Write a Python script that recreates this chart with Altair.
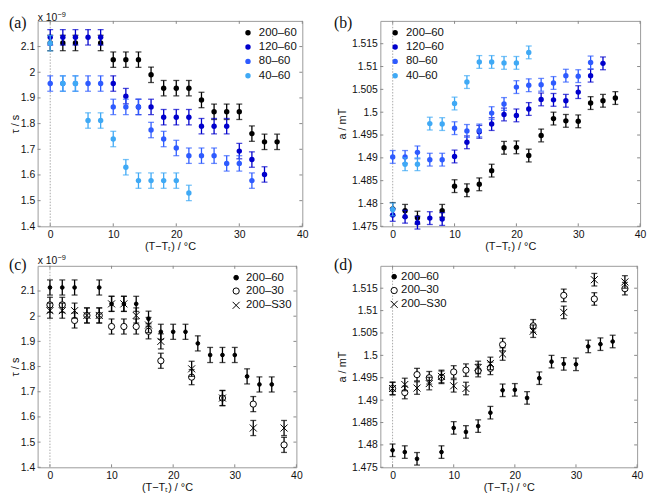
import altair as alt
import pandas as pd

# ---------------- data ----------------
X_200_60 = [0, 2, 4, 8, 10, 12, 14, 16, 18, 20, 22, 24, 26, 28, 30, 32, 34, 36]
TAU_200_60 = [2.114, 2.114, 2.114, 2.114, 2.049, 2.049, 2.049, 1.990, 1.938, 1.938, 1.938,
              1.892, 1.846, 1.846, 1.846, 1.761, 1.729, 1.729]
A_200_60 = [1.4788, 1.4784, 1.4769, 1.4784, 1.4838, 1.4829, 1.4842, 1.4872, 1.4922, 1.4923,
            1.4905, 1.4949, 1.4986, 1.4981, 1.4980, 1.5020, 1.5025, 1.5031]

X_120_60 = [0, 2, 4, 6, 8, 10, 12, 14, 16, 18, 20, 22, 24, 26, 28, 30, 32, 34]
TAU_120_60 = [2.136, 2.136, 2.136, 2.136, 2.136, 1.956, 1.907, 1.865, 1.865, 1.825, 1.825,
              1.825, 1.790, 1.790, 1.790, 1.693, 1.660, 1.602]
A_120_60 = [1.4775, 1.4771, 1.4758, 1.4768, 1.4766, 1.4903, 1.4934, 1.4957, 1.4974, 1.4995,
            1.4993, 1.5007, 1.5028, 1.5027, 1.5025, 1.5044, 1.5080, 1.5107]

X_80_60 = [0, 2, 4, 6, 8, 10, 12, 14, 16, 18, 20, 22, 24, 26, 28, 30, 32]
TAU_80_60 = [1.956, 1.956, 1.956, 1.956, 1.956, 1.865, 1.865, 1.865, 1.775, 1.740, 1.705,
             1.675, 1.675, 1.675, 1.645, 1.645, 1.578]
A_80_60 = [1.4902, 1.4902, 1.4912, 1.4896, 1.4896, 1.4965, 1.4959, 1.4960, 1.4998, 1.5018,
           1.5055, 1.5059, 1.5060, 1.5064, 1.5080, 1.5079, 1.5109]

X_40_60 = [0, 2, 4, 6, 8, 10, 12, 14, 16, 18, 20, 22]
TAU_40_60 = [2.113, 1.956, 1.956, 1.812, 1.812, 1.740, 1.630, 1.578, 1.578, 1.578, 1.578, 1.530]
A_40_60 = [1.4787, 1.4886, 1.4886, 1.4975, 1.4974, 1.5019, 1.5066, 1.5110, 1.5110, 1.5108,
           1.5108, 1.5131]

X_200_30 = [0, 2, 4, 6, 8, 10, 12, 14, 16, 18, 23, 28, 33, 38]
TAU_200_30 = [2.045, 2.045, 1.983, 2.003, 2.003, 1.959, 1.959, 1.959, 1.940, 1.823, 1.758,
              1.675, 1.651, 1.489]
TAU_200_S30 = [2.022, 2.022, 2.022, 2.003, 2.003, 2.049, 2.049, 2.003, 1.965, 1.900, 1.791,
               1.675, 1.556, 1.556]
A_200_30 = [1.4926, 1.4917, 1.4957, 1.4950, 1.4951, 1.4963, 1.4967, 1.4966, 1.4971, 1.5024,
            1.5066, 1.5134, 1.5126, 1.5149]
A_200_S30 = [1.4926, 1.4935, 1.4927, 1.4937, 1.4953, 1.4932, 1.4926, 1.4973, 1.4982, 1.5003,
             1.5054, 1.5096, 1.5169, 1.5164]

TAU_ERR = 0.03
A_ERR = 0.0014

SERIES_AB = ["200–60", "120–60", "80–60", "40–60"]
COLORS_AB = ["#000000", "#0000CC", "#2E5BFF", "#3FA9F5"]
SERIES_CD = ["200–60", "200–30", "200–S30"]

X_TICKS = [0, 10, 20, 30, 40]
TAU_TICKS = [1.4, 1.5, 1.6, 1.7, 1.8, 1.9, 2.0, 2.1]
A_TICKS = [1.475, 1.48, 1.485, 1.49, 1.495, 1.5, 1.505, 1.51, 1.515]
X_DOMAIN = [-2, 40]
TAU_DOMAIN = [1.4, 2.2]
A_DOMAIN = [1.475, 1.52]

X_TITLE = "(T−Tₜ) / °C"
XPATH = "M-1,-1L1,1M-1,1L1,-1"
FONT = "Liberation Sans"
FRAME = "#9a9a9a"
TXT = "#111111"

# marker styles for panels (c)/(d): (shape, fill, size)
STYLE_CD = [("circle", "black", 14), ("circle", "white", 40), (XPATH, "white", 50)]


def panel(series, xs, ys, err, kind, letter, dom, ticks, ytitle, ytpad, W, H,
          letter_dx, letter_dy, exp_dy, leg_sym_x, leg_txt_x, leg_rows):
    x_axis = alt.Axis(values=X_TICKS, title=X_TITLE, labelFlush=False)
    y_axis = alt.Axis(values=ticks, format="~g", title=ytitle, titlePadding=ytpad)
    xs_ = alt.Scale(domain=X_DOMAIN, nice=False, zero=False)
    ys_ = alt.Scale(domain=dom, nice=False, zero=False)

    def X(f):
        return alt.X(f"{f}:Q", scale=xs_, axis=x_axis)

    def Y(f):
        return alt.Y(f"{f}:Q", scale=ys_, axis=y_axis)

    layers = []
    # dotted line at x = 0
    layers.append(alt.Chart(pd.DataFrame({"x": [0]})).mark_rule(
        color="#aaaaaa", strokeDash=[1.5, 1.5], strokeWidth=1).encode(x=X("x")))
    # inner tick marks (box style)
    tdf = pd.DataFrame({"y": ticks})
    xdf = pd.DataFrame({"x": X_TICKS})
    tc = "#888888"
    layers.append(alt.Chart(tdf).mark_rule(color=tc).encode(y=Y("y"), x=alt.value(0), x2=alt.value(3)))
    layers.append(alt.Chart(tdf).mark_rule(color=tc).encode(y=Y("y"), x=alt.value(W - 3), x2=alt.value(W)))
    layers.append(alt.Chart(xdf).mark_rule(color=tc).encode(x=X("x"), y=alt.value(H - 3), y2=alt.value(H)))
    layers.append(alt.Chart(xdf).mark_rule(color=tc).encode(x=X("x"), y=alt.value(0), y2=alt.value(3)))

    for i, (name, xx, yy) in enumerate(zip(series, xs, ys)):
        df = pd.DataFrame({"x": xx, "y": yy})
        df["lo"] = df["y"] - err
        df["hi"] = df["y"] + err
        if kind == "color":
            c = COLORS_AB[i]
            pt = alt.Chart(df).mark_point(filled=True, size=30, opacity=1, color=c)
            lpt = dict(filled=True, size=30, opacity=1, color=c)
        else:
            c = "black"
            shp, fil, sz = STYLE_CD[i]
            pt = alt.Chart(df).mark_point(shape=shp, fill=fil, stroke="black", strokeWidth=1,
                                          size=sz, opacity=1, fillOpacity=1)
            lpt = dict(shape=shp, fill=fil, stroke="black", strokeWidth=1, size=max(sz, 22),
                       opacity=1, fillOpacity=1)
        layers.append(alt.Chart(df).mark_rule(strokeWidth=1.3, color=c).encode(
            x=X("x"), y=Y("lo"), y2="hi:Q"))
        for f in ["lo", "hi"]:
            layers.append(alt.Chart(df).mark_tick(orient="horizontal", size=6, thickness=1.3,
                                                  color=c).encode(x=X("x"), y=Y(f)))
        layers.append(pt.encode(x=X("x"), y=Y("y")))
        # legend entry
        ldf = pd.DataFrame({"t": [name]})
        layers.append(alt.Chart(ldf).mark_point(**lpt).encode(
            x=alt.value(leg_sym_x), y=alt.value(leg_rows[i])))
        layers.append(alt.Chart(ldf).mark_text(
            font=FONT, fontSize=11.5, align="left", baseline="middle", color=TXT
        ).encode(text="t:N", x=alt.value(leg_txt_x), y=alt.value(leg_rows[i])))

    # panel letter
    layers.append(alt.Chart(pd.DataFrame({"t": [letter]})).mark_text(
        font="Liberation Serif", fontSize=16, align="left", baseline="middle", color=TXT
    ).encode(text="t:N", x=alt.value(letter_dx), y=alt.value(letter_dy)))
    if exp_dy is not None:
        layers.append(alt.Chart(pd.DataFrame({"t": ["x 10"]})).mark_text(
            font=FONT, fontSize=10.5, align="left", baseline="alphabetic", color=TXT
        ).encode(text="t:N", x=alt.value(0), y=alt.value(exp_dy)))
        layers.append(alt.Chart(pd.DataFrame({"t": ["−9"]})).mark_text(
            font=FONT, fontSize=7.5, align="left", baseline="alphabetic", color=TXT
        ).encode(text="t:N", x=alt.value(20), y=alt.value(exp_dy - 3.5)))
    return alt.layer(*layers).properties(width=W, height=H)


pa = panel(SERIES_AB, [X_200_60, X_120_60, X_80_60, X_40_60],
           [TAU_200_60, TAU_120_60, TAU_80_60, TAU_40_60], TAU_ERR, "color", "(a)",
           TAU_DOMAIN, TAU_TICKS, "τ / s", 0, 268, 208, -29, 2, 0,
           213, 224, [12, 26.5, 41, 55.5])
pb = panel(SERIES_AB, [X_200_60, X_120_60, X_80_60, X_40_60],
           [A_200_60, A_120_60, A_80_60, A_40_60], A_ERR, "color", "(b)",
           A_DOMAIN, A_TICKS, "a / mT", 4, 263, 208, -47, 2, None,
           15, 26, [12, 26.5, 41, 55.5])
pc = panel(SERIES_CD, [X_200_60, X_200_30, X_200_30],
           [TAU_200_60, TAU_200_30, TAU_200_S30], TAU_ERR, "shape", "(c)",
           TAU_DOMAIN, TAU_TICKS, "τ / s", 0, 262, 204, -29, -1, -2,
           201, 211, [12, 25.5, 40])
pd_ = panel(SERIES_CD, [X_200_60, X_200_30, X_200_30],
            [A_200_60, A_200_30, A_200_S30], A_ERR, "shape", "(d)",
            A_DOMAIN, A_TICKS, "a / mT", 4, 260, 204, -47, -1, None,
            14, 21, [11, 25, 39])

chart = alt.concat(pa, pb, pc, pd_, columns=2, spacing={"row": 40, "column": 79},
                   bounds="flush").properties(
    padding=0, background="white"
).configure_view(stroke=FRAME, strokeWidth=1).configure_axis(
    domain=False, ticks=False, grid=False, labelFont=FONT, labelFontSize=10.5,
    labelColor=TXT, titleFont=FONT, titleFontSize=11, titleFontWeight="normal",
    titleColor=TXT, labelPadding=4
).configure_axisX(titlePadding=1, labelPadding=3).configure_axisY(labelPadding=3)

chart.save("out.html", embed_options={"renderer": "svg", "actions": False})
